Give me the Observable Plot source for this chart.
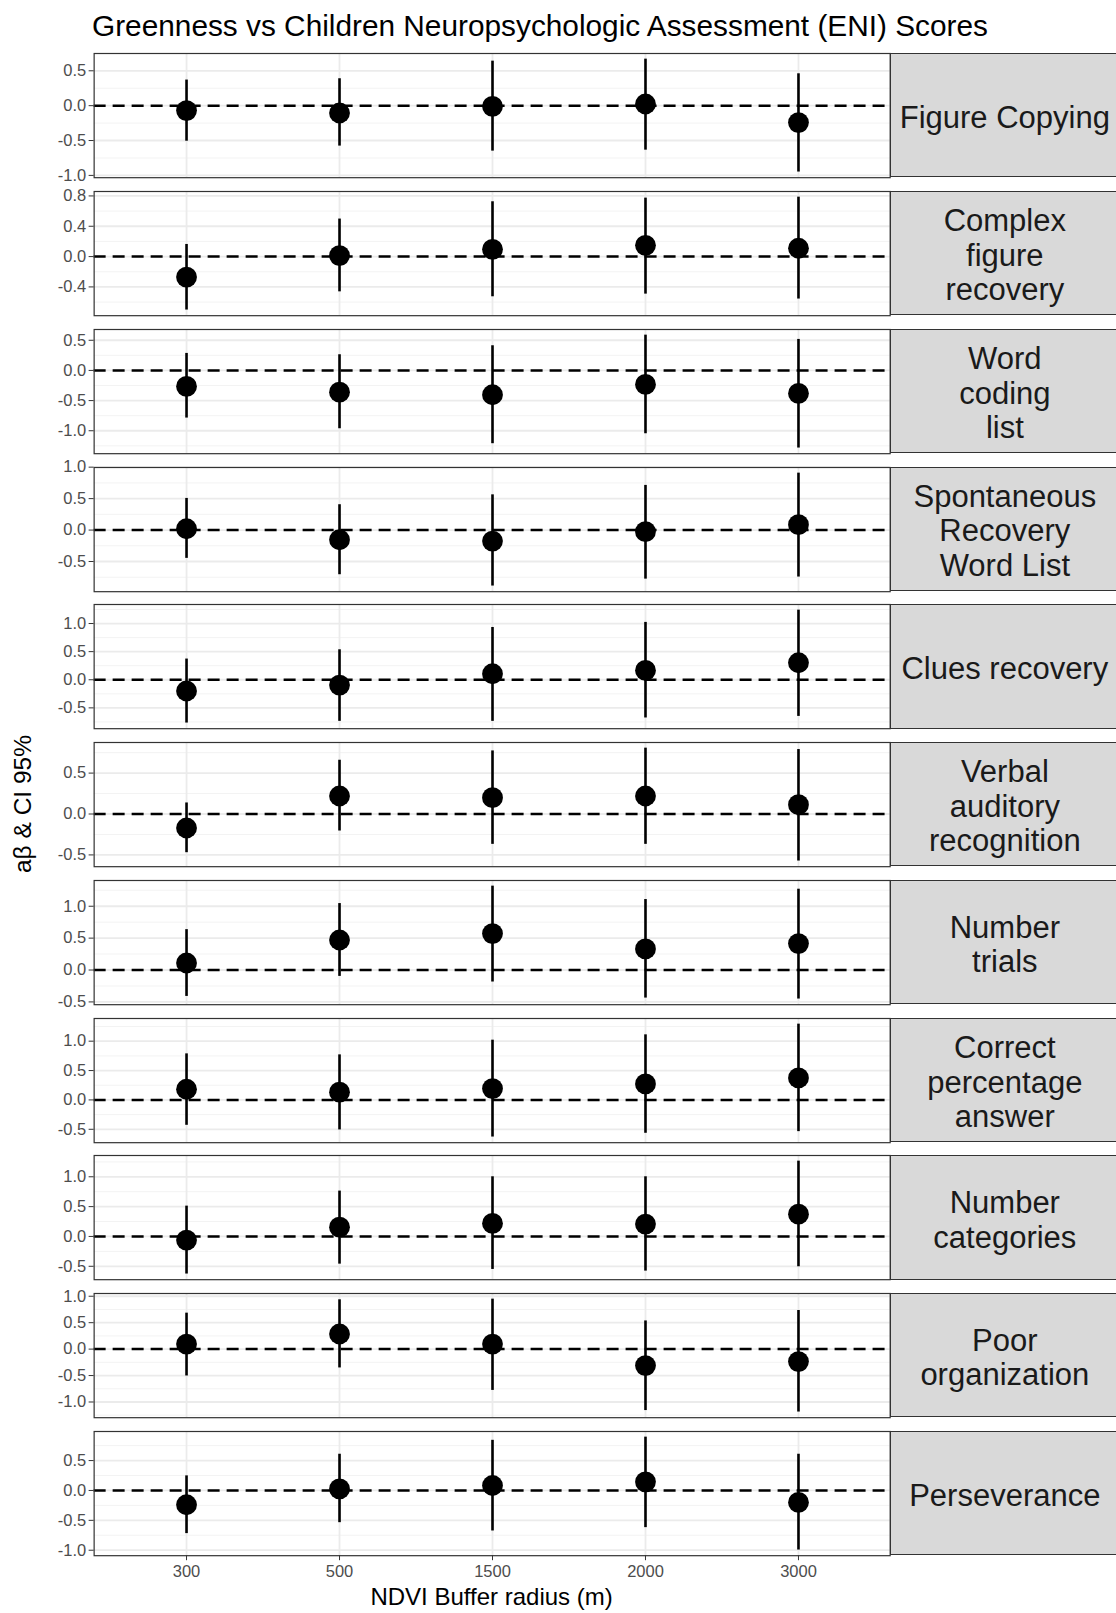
<!DOCTYPE html>
<html>
<head>
<meta charset="utf-8">
<script src="https://cdn.jsdelivr.net/npm/d3@7"></script>
<script src="https://cdn.jsdelivr.net/npm/@observablehq/plot@0.6"></script>
<style>
  html, body { margin: 0; padding: 0; background: #fff; }
  #root { position: relative; width: 1116px; height: 1613px; overflow: hidden;
          font-family: "Liberation Sans", Arial, Helvetica, sans-serif; }
  .title { position: absolute; left: 92px; top: 11px; font-size: 29.8px; line-height: 29.8px; color: #000; white-space: nowrap; }
  .ytitle { position: absolute; left: 23px; top: 804px; font-size: 24.5px; line-height: 24.5px; color: #000;
            transform: translate(-50%, -50%) rotate(-90deg); white-space: nowrap; }
  .xtitle { position: absolute; left: 491.6px; top: 1597px; font-size: 24px; line-height: 26px; color: #000;
            transform: translate(-50%, -50%); white-space: nowrap; }
  .strip { position: absolute; box-sizing: border-box; background: #d9d9d9; border: 1.2px solid #333;
           padding-top: 6px;
           display: flex; align-items: center; justify-content: center; text-align: center;
           font-size: 31px; line-height: 34.5px; color: #1a1a1a; white-space: pre; }
  .panel { position: absolute; left: 0; }
</style>
</head>
<body>
<div id="root"></div>
<script>
// ---- data ----
const radii = ["300", "500", "1500", "2000", "3000"];

const outcomes = [
  "Figure Copying",
  "Complex\nfigure\nrecovery",
  "Word\ncoding\nlist",
  "Spontaneous\nRecovery\nWord List",
  "Clues recovery",
  "Verbal\nauditory\nrecognition",
  "Number\ntrials",
  "Correct\npercentage\nanswer",
  "Number\ncategories",
  "Poor\norganization",
  "Perseverance"
];

const estimates = [
  [-0.071, -0.105, -0.010, 0.024, -0.243],
  [-0.270, 0.013, 0.096, 0.149, 0.110],
  [-0.265, -0.360, -0.403, -0.232, -0.381],
  [0.021, -0.154, -0.175, -0.026, 0.085],
  [-0.200, -0.095, 0.107, 0.166, 0.302],
  [-0.171, 0.220, 0.200, 0.220, 0.114],
  [0.110, 0.471, 0.571, 0.330, 0.414],
  [0.182, 0.131, 0.193, 0.273, 0.375],
  [-0.061, 0.156, 0.218, 0.207, 0.374],
  [0.095, 0.286, 0.095, -0.311, -0.235],
  [-0.239, 0.028, 0.083, 0.144, -0.200]
];

const upperCI = [
  [0.367, 0.386, 0.638, 0.667, 0.457],
  [0.160, 0.495, 0.723, 0.771, 0.784],
  [0.282, 0.260, 0.409, 0.585, 0.514],
  [0.503, 0.403, 0.560, 0.710, 0.905],
  [0.368, 0.533, 0.930, 1.020, 1.238],
  [0.135, 0.657, 0.771, 0.805, 0.788],
  [0.633, 1.042, 1.315, 1.105, 1.267],
  [0.784, 0.767, 1.017, 1.108, 1.290],
  [0.508, 0.760, 1.000, 1.000, 1.262],
  [0.680, 0.933, 0.945, 0.533, 0.730],
  [0.244, 0.606, 0.839, 0.892, 0.606]
];

const lowerCI = [
  [-0.510, -0.580, -0.652, -0.638, -0.952],
  [-0.705, -0.465, -0.530, -0.495, -0.560],
  [-0.790, -0.967, -1.215, -1.050, -1.287],
  [-0.450, -0.710, -0.890, -0.780, -0.747],
  [-0.770, -0.740, -0.740, -0.680, -0.652],
  [-0.473, -0.208, -0.371, -0.371, -0.575],
  [-0.414, -0.100, -0.188, -0.440, -0.455],
  [-0.432, -0.511, -0.632, -0.568, -0.540],
  [-0.630, -0.464, -0.553, -0.581, -0.508],
  [-0.508, -0.356, -0.781, -1.162, -1.190],
  [-0.722, -0.539, -0.678, -0.622, -0.997]
];

const yTicks = [
  [-1, -0.5, 0, 0.5],
  [-0.4, 0, 0.4, 0.8],
  [-1, -0.5, 0, 0.5],
  [-0.5, 0, 0.5, 1],
  [-0.5, 0, 0.5, 1],
  [-0.5, 0, 0.5],
  [-0.5, 0, 0.5, 1],
  [-0.5, 0, 0.5, 1],
  [-0.5, 0, 0.5, 1],
  [-1, -0.5, 0, 0.5, 1],
  [-1, -0.5, 0, 0.5]
];

const titleText = "Greenness vs Children Neuropsychologic Assessment (ENI) Scores";
const xTitle = "NDVI Buffer radius (m)";
const yTitle = "aβ & CI 95%";

// ---- layout ----
const W = 1116;
const panelLeft = 93.6, panelRight = 889.7;
const panelTop0 = 53.3, panelStep = 137.77, panelH = 124.2;
const FONT = '"Liberation Sans", Arial, Helvetica, sans-serif';
const TICK_FS = 16.5;

const root = document.getElementById("root");

function addDiv(cls, text, css) {
  const d = document.createElement("div");
  d.className = cls;
  d.textContent = text;
  if (css) Object.assign(d.style, css);
  root.appendChild(d);
  return d;
}

addDiv("title", titleText);

outcomes.forEach((name, i) => {
  const rows = radii.map((r, j) => ({
    radius: r, est: estimates[i][j], lo: lowerCI[i][j], hi: upperCI[i][j]
  }));
  const lo = d3.min(lowerCI[i]), hi = d3.max(upperCI[i]);
  const pad = (hi - lo) * 0.05;
  const domain = [lo - pad, hi + pad];
  const ticks = yTicks[i];
  const step = ticks[1] - ticks[0];
  const minor = [ticks[0] - step / 2, ...ticks.map(t => t + step / 2)]
    .filter(v => v >= domain[0] && v <= domain[1]);
  const last = i === outcomes.length - 1;
  const mt = 12, mb = last ? 36 : 12;
  const top = panelTop0 + panelStep * i;

  const fmt = d => d.toFixed(1);

  const marks = [
    Plot.ruleY(minor, {stroke: "#f3f3f3", strokeWidth: 1}),
    Plot.ruleY(ticks, {stroke: "#ebebeb", strokeWidth: 1.8}),
    Plot.ruleX(radii, {stroke: "#ebebeb", strokeWidth: 1.8}),
    Plot.ruleY([0], {stroke: "#000", strokeWidth: 2.5, strokeDasharray: "12,7"}),
    Plot.ruleX(rows, {x: "radius", y1: "lo", y2: "hi", stroke: "#000", strokeWidth: 2.6}),
    Plot.dot(rows, {x: "radius", y: "est", r: 10.4, fill: "#000", stroke: "none"}),
    Plot.frame({stroke: "#333", strokeWidth: 1.2}),
    Plot.axisY(ticks, {tickFormat: fmt, tickSize: 5, tickPadding: 3, stroke: "#333", fill: "#4d4d4d", fontSize: TICK_FS, label: null})
  ];
  if (last) {
    marks.push(Plot.axisX(radii, {tickSize: 5, tickPadding: 5, stroke: "#333", fill: "#4d4d4d", fontSize: TICK_FS, label: null}));
  }

  const svg = Plot.plot({
    width: W,
    height: panelH + mt + mb,
    marginLeft: panelLeft,
    marginRight: W - panelRight,
    marginTop: mt,
    marginBottom: mb,
    style: {fontFamily: FONT, fontSize: TICK_FS + "px", overflow: "visible", background: "transparent"},
    x: {type: "point", domain: radii, padding: 0.6, axis: last ? undefined : null, label: null},
    y: {domain, label: null},
    marks
  });
  svg.classList.add("panel");
  svg.style.top = (top - mt) + "px";
  root.appendChild(svg);

  addDiv("strip", name, {
    left: panelRight + "px",
    top: top + "px",
    width: (W - panelRight + 4) + "px",
    height: panelH + "px"
  });
});

addDiv("ytitle", yTitle);
addDiv("xtitle", xTitle);
</script>
</body>
</html>
